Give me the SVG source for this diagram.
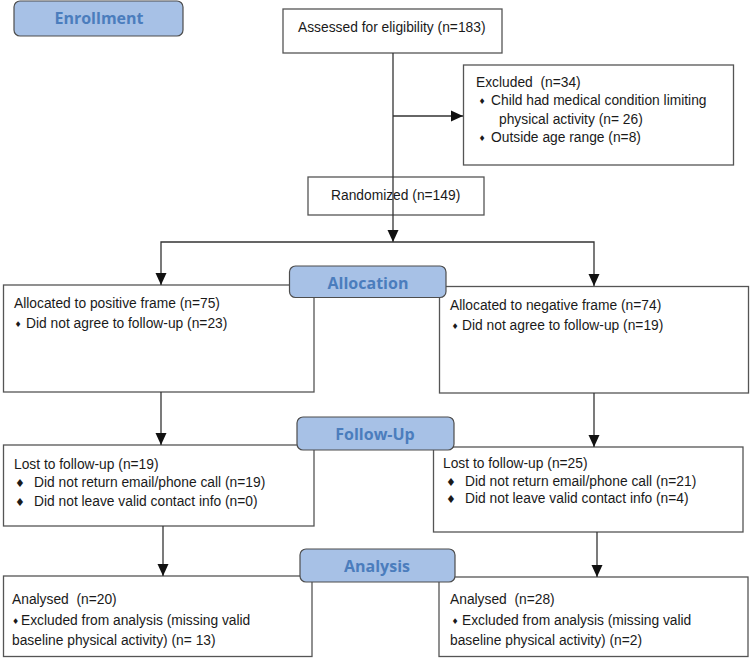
<svg xmlns="http://www.w3.org/2000/svg" width="750" height="658" viewBox="0 0 750 658">
<defs>
<marker id="arr" markerUnits="userSpaceOnUse" markerWidth="12" markerHeight="12" refX="12" refY="6" orient="auto">
<path d="M0,0.5 L12,6 L0,11.5 z" fill="#111"/>
</marker>
<style>
.box{fill:#fff;stroke:#555;stroke-width:1.3}
.lbl{fill:#a7c1e6;stroke:#4d4d4d;stroke-width:1.2}
.lt{font-family:"Open Sans","DejaVu Sans",sans-serif;font-weight:bold;font-size:16px;fill:#4b7dbd;text-anchor:middle}
.t{font-family:"Liberation Sans",Arial,sans-serif;font-size:13.8px;fill:#1a1a1a;white-space:pre}
.b{font-family:"DejaVu Sans",sans-serif;font-size:8px;fill:#1a1a1a;text-anchor:middle}
.bb{font-family:"DejaVu Sans",sans-serif;font-size:11px;fill:#1a1a1a;text-anchor:middle}
.c{fill:none;stroke:#333;stroke-width:1.3}
</style>
</defs>
<rect width="750" height="658" fill="#fff"/>

<g id="assessed">
<rect class="box" x="283" y="9" width="219" height="44"/>
<text class="t" x="298" y="32">Assessed for eligibility (n=183)</text>
</g>

<g id="excluded">
<rect class="box" x="463.5" y="65" width="270" height="100"/>
<text class="t" x="476" y="87">Excluded  (n=34)</text>
<text class="b" x="482" y="104">♦</text>
<text class="t" x="491" y="105">Child had medical condition limiting</text>
<text class="t" x="499" y="124">physical activity (n= 26)</text>
<text class="b" x="482" y="141">♦</text>
<text class="t" x="491" y="142">Outside age range (n=8)</text>
</g>

<g id="randomized">
<rect class="box" x="308" y="177" width="176" height="38"/>
<text class="t" x="331" y="200">Randomized (n=149)</text>
</g>

<g id="alloc-pos">
<rect class="box" x="3.5" y="285" width="310.5" height="107"/>
<text class="t" x="14" y="308">Allocated to positive frame (n=75)</text>
<text class="b" x="18" y="327">♦</text>
<text class="t" x="26" y="328">Did not agree to follow-up (n=23)</text>
</g>

<g id="alloc-neg">
<rect class="box" x="439.5" y="286.5" width="309" height="106.5"/>
<text class="t" x="450" y="310">Allocated to negative frame (n=74)</text>
<text class="b" x="455" y="329">♦</text>
<text class="t" x="462" y="330">Did not agree to follow-up (n=19)</text>
</g>

<g id="follow-pos">
<rect class="box" x="3.5" y="445" width="310.5" height="81"/>
<text class="t" x="14" y="469">Lost to follow-up (n=19)</text>
<text class="bb" x="20" y="487">♦</text>
<text class="t" x="34" y="487">Did not return email/phone call (n=19)</text>
<text class="bb" x="20" y="506">♦</text>
<text class="t" x="34" y="506">Did not leave valid contact info (n=0)</text>
</g>

<g id="follow-neg">
<rect class="box" x="433.5" y="447" width="309.5" height="85"/>
<text class="t" x="443" y="468">Lost to follow-up (n=25)</text>
<text class="bb" x="451" y="486">♦</text>
<text class="t" x="465" y="486">Did not return email/phone call (n=21)</text>
<text class="bb" x="451" y="503">♦</text>
<text class="t" x="465" y="503">Did not leave valid contact info (n=4)</text>
</g>

<g id="analysis-pos">
<rect class="box" x="3.5" y="576" width="308.5" height="80.5"/>
<text class="t" x="12" y="604">Analysed  (n=20)</text>
<text class="b" x="15.5" y="624">♦</text>
<text class="t" x="21" y="625">Excluded from analysis (missing valid</text>
<text class="t" x="12" y="645">baseline physical activity) (n= 13)</text>
</g>

<g id="analysis-neg">
<rect class="box" x="439" y="577" width="309" height="79.5"/>
<text class="t" x="450" y="604">Analysed  (n=28)</text>
<text class="b" x="455" y="624">♦</text>
<text class="t" x="462" y="625">Excluded from analysis (missing valid</text>
<text class="t" x="450" y="645">baseline physical activity) (n=2)</text>
</g>

<g id="connectors">
<path class="c" d="M393,53 V242" marker-end="url(#arr)"/>
<path class="c" d="M393,116 H463" marker-end="url(#arr)"/>
<path class="c" d="M393,242 H161 V285" marker-end="url(#arr)"/>
<path class="c" d="M393,242 H594 V286" marker-end="url(#arr)"/>
<path class="c" d="M161,392 V445" marker-end="url(#arr)"/>
<path class="c" d="M594,393 V447" marker-end="url(#arr)"/>
<path class="c" d="M163,526 V576" marker-end="url(#arr)"/>
<path class="c" d="M597,532 V577" marker-end="url(#arr)"/>
</g>

<g id="label-enrollment">
<rect class="lbl" x="14" y="1" width="169" height="35" rx="6"/>
<text class="lt" x="99" y="24">Enrollment</text>
</g>
<g id="label-allocation">
<rect class="lbl" x="289.5" y="266" width="156.5" height="31.5" rx="6"/>
<text class="lt" x="368" y="289">Allocation</text>
</g>
<g id="label-followup">
<rect class="lbl" x="297" y="417" width="157" height="33" rx="6"/>
<text class="lt" x="375" y="440">Follow-Up</text>
</g>
<g id="label-analysis">
<rect class="lbl" x="300" y="549" width="155" height="33" rx="6"/>
<text class="lt" x="377" y="572">Analysis</text>
</g>
</svg>
